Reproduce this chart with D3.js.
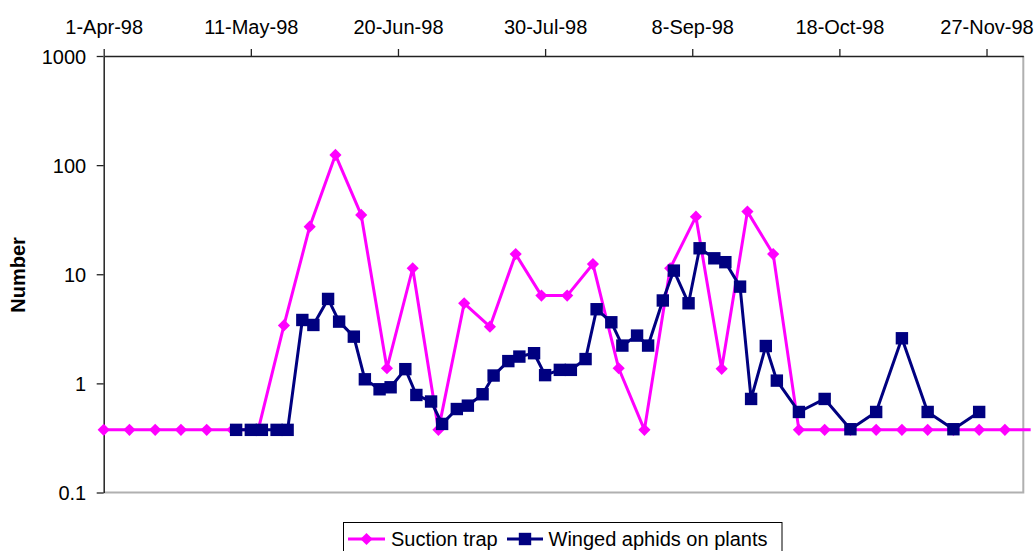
<!DOCTYPE html>
<html><head><meta charset="utf-8">
<script src="https://cdn.jsdelivr.net/npm/d3@7"></script>
<style>
html,body{margin:0;padding:0;background:#fff;}
text{font-family:"Liberation Sans",Arial,sans-serif;}
</style>
</head><body>
<svg id="c" width="1035" height="551"></svg>
<script>
// ---- data ----
const xTickLabels = ["1-Apr-98","11-May-98","20-Jun-98","30-Jul-98","8-Sep-98","18-Oct-98","27-Nov-98"];
const yTickValues = [0.1, 1, 10, 100, 1000];
const yTickLabels = ["0.1","1","10","100","1000"];
const xDomain = ["1998-04-01","1998-12-07"];

const suctionDates = ["1998-04-01","1998-04-08","1998-04-15","1998-04-22","1998-04-29","1998-05-06","1998-05-13","1998-05-20","1998-05-27","1998-06-03","1998-06-10","1998-06-17","1998-06-24","1998-07-01","1998-07-08","1998-07-15","1998-07-22","1998-07-29","1998-08-05","1998-08-12","1998-08-19","1998-08-26","1998-09-02","1998-09-09","1998-09-16","1998-09-23","1998-09-30","1998-10-07","1998-10-14","1998-10-21","1998-10-28","1998-11-04","1998-11-11","1998-11-18","1998-11-25","1998-12-02","1998-12-09"];
const suctionValues = [0.375,0.375,0.375,0.375,0.375,0.375,0.375,3.4,27.3,124,35,1.375,11.35,0.375,5.42,3.31,15.3,6.37,6.37,12.4,1.375,0.375,11.35,33.7,1.36,37.5,15.3,0.375,0.375,0.375,0.375,0.375,0.375,0.375,0.375,0.375,0.375];

const wingedDates = ["1998-05-07","1998-05-11","1998-05-14","1998-05-18","1998-05-21","1998-05-25","1998-05-28","1998-06-01","1998-06-04","1998-06-08","1998-06-11","1998-06-15","1998-06-18","1998-06-22","1998-06-25","1998-06-29","1998-07-02","1998-07-06","1998-07-09","1998-07-13","1998-07-16","1998-07-20","1998-07-23","1998-07-27","1998-07-30","1998-08-03","1998-08-06","1998-08-10","1998-08-13","1998-08-17","1998-08-20","1998-08-24","1998-08-27","1998-08-31","1998-09-03","1998-09-07","1998-09-10","1998-09-14","1998-09-17","1998-09-21","1998-09-24","1998-09-28","1998-10-01","1998-10-07","1998-10-14","1998-10-21","1998-10-28","1998-11-04","1998-11-11","1998-11-18","1998-11-25"];
const wingedValues = [0.375,0.375,0.375,0.375,0.375,3.81,3.43,5.94,3.68,2.68,1.09,0.883,0.921,1.35,0.783,0.682,0.425,0.582,0.625,0.795,1.18,1.6,1.76,1.89,1.19,1.33,1.33,1.67,4.78,3.63,2.22,2.74,2.22,5.75,10.8,5.42,17.3,14.0,12.9,7.7,0.72,2.2,1.06,0.547,0.72,0.38,0.547,2.59,0.547,0.38,0.547];

const seriesNames = ["Suction trap","Winged aphids on plants"];
const yTitle = "Number";

// ---- layout ----
const svg = d3.select("#c");
const L = 103.7, R = 1023.3, T = 56, B = 492.5;
const iso = d3.utcParse("%Y-%m-%d");
const tickParse = d3.utcParse("%d-%b-%y");

const x = d3.scaleUtc().domain(xDomain.map(iso)).range([L, R]);
const y = d3.scaleLog().domain([0.1, 1000]).range([B, T]);

// plot border right/bottom (gray)
svg.append("path")
  .attr("d", `M${L},${B}H${R}V${T}`)
  .attr("fill","none").attr("stroke","#b0b0b0").attr("stroke-width",2);

// top axis
const xTicks = xTickLabels.map(tickParse);
const gx = svg.append("g").attr("transform",`translate(0,${T})`)
  .call(d3.axisTop(x).tickValues(xTicks).tickSize(7).tickSizeOuter(0)
        .tickFormat((d,i)=>xTickLabels[i]));
gx.select(".domain").attr("stroke","#222").attr("stroke-width",1.5);
gx.selectAll(".tick line").attr("stroke","#222").attr("stroke-width",1.3);
gx.selectAll(".tick text").attr("font-size","20px").attr("fill","#000")
  .attr("font-family","Liberation Sans, Arial, sans-serif").attr("dy",0).attr("y",-22.5);

// left axis
const gy = svg.append("g").attr("transform",`translate(${L},0)`)
  .call(d3.axisLeft(y).tickValues(yTickValues).tickSize(7).tickSizeOuter(0)
        .tickFormat((d,i)=>yTickLabels[i]));
gy.select(".domain").attr("stroke","#222").attr("stroke-width",1.5);
gy.selectAll(".tick line").attr("stroke","#222").attr("stroke-width",1.3);
gy.selectAll(".tick text").attr("font-size","20px").attr("fill","#000")
  .attr("font-family","Liberation Sans, Arial, sans-serif").attr("x",-17.5).attr("dy","0.37em");

// y title
svg.append("text").attr("transform","translate(25,275) rotate(-90)")
  .attr("text-anchor","middle").attr("font-size","20px").attr("font-weight","bold")
  .text(yTitle);

// series
const s1 = suctionDates.map((d,i)=>({d:iso(d), v:suctionValues[i]}));
const s2 = wingedDates.map((d,i)=>({d:iso(d), v:wingedValues[i]}));
const line = d3.line().x(p=>x(p.d)).y(p=>y(p.v));
const maxD = iso(xDomain[1]);
const diamondPath = d3.symbol().type(d3.symbolSquare).size(74);

svg.append("path").datum(s1).attr("d",line)
  .attr("fill","none").attr("stroke","#ff00ff").attr("stroke-width",3).attr("stroke-linejoin","round");
svg.append("g").selectAll("path").data(s1.filter(p=>p.d<=maxD)).join("path")
  .attr("d", diamondPath)
  .attr("transform",p=>`translate(${x(p.d)},${y(p.v)}) rotate(45)`)
  .attr("fill","#ff00ff");

svg.append("path").datum(s2).attr("d",line)
  .attr("fill","none").attr("stroke","#000080").attr("stroke-width",3).attr("stroke-linejoin","round");
svg.append("g").selectAll("rect").data(s2).join("rect")
  .attr("x",p=>x(p.d)-6.2).attr("y",p=>y(p.v)-6.2).attr("width",12.4).attr("height",12.4)
  .attr("fill","#000080");

// legend
const lg = svg.append("g");
lg.append("rect").attr("x",343.5).attr("y",522.5).attr("width",438.5).attr("height",40)
  .attr("fill","#fff").attr("stroke","#000").attr("stroke-width",1);
const items = [
  {name:seriesNames[0], color:"#ff00ff", x0:348, x1:385, tx:391, shape:"d"},
  {name:seriesNames[1], color:"#000080", x0:507, x1:543, tx:548.5, shape:"s"}
];
items.forEach(it=>{
  lg.append("line").attr("x1",it.x0).attr("x2",it.x1).attr("y1",539).attr("y2",539)
    .attr("stroke",it.color).attr("stroke-width",3);
  const cx=(it.x0+it.x1)/2;
  if(it.shape==="d"){
    lg.append("path").attr("d", diamondPath)
      .attr("transform",`translate(${cx},539) rotate(45)`).attr("fill",it.color);
  } else {
    lg.append("rect").attr("x",cx-6.2).attr("y",532.8).attr("width",12.4).attr("height",12.4).attr("fill",it.color);
  }
  lg.append("text").attr("x",it.tx).attr("y",546).attr("font-size","20px").text(it.name);
});
</script>
</body></html>
